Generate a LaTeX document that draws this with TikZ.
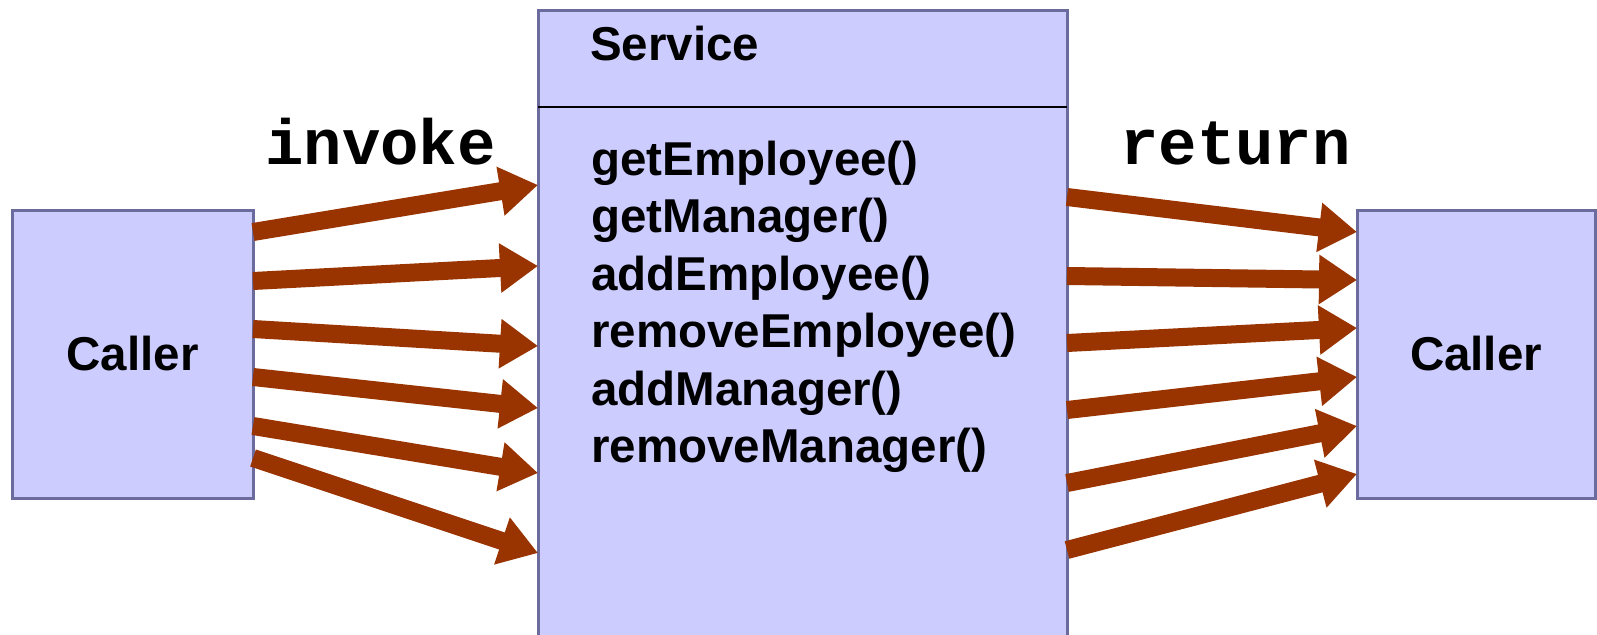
\documentclass[tikz,border=0pt]{standalone}
\usepackage{fontspec}
\setmainfont{Liberation Sans}
\newfontfamily\monob{Liberation Mono}
\usetikzlibrary{arrows.meta}
\definecolor{boxfill}{RGB}{204,204,255}
\definecolor{boxline}{RGB}{107,107,158}
\definecolor{arrowc}{RGB}{153,51,0}
\begin{document}
\begin{tikzpicture}[x=1pt,y=-1pt,
  box/.style={draw=boxline,line width=3pt,fill=boxfill,inner sep=0pt,outer sep=0pt},
  lbl/.style={font=\fontsize{47.5pt}{57pt}\selectfont\bfseries,inner sep=0pt},
  meth/.style={lbl,anchor=base west},
  code/.style={font=\monob\fontsize{64pt}{72pt}\selectfont\bfseries,inner sep=0pt,anchor=base west},
  flow/.style={draw=arrowc,line width=18pt,-{Triangle[length=38pt,width=47pt]}}]
\useasboundingbox (0,0) rectangle (1597,634);
% boxes
\node[box,minimum width=241pt,minimum height=288pt,lbl] (callerL) at (132.5,354) {Caller};
\node[box,minimum width=529pt,minimum height=640pt] (service) at (802.5,331) {};
\node[box,minimum width=238pt,minimum height=288pt,lbl] (callerR) at (1476,354) {Caller};
\coordinate (divL) at ([yshift=-96pt]service.north west);
\coordinate (divR) at ([yshift=-96pt]service.north east);
\draw[black,line width=1.5pt] (divL) -- (divR);
% texts
\node[meth] (title) at (590,60) {Service};
\node[meth] (m1) at (591,175) {getEmployee()};
\node[meth] (m2) at (591,232.5) {getManager()};
\node[meth] (m3) at (591,290) {addEmployee()};
\node[meth] (m4) at (591,347.5) {removeEmployee()};
\node[meth] (m5) at (591,405) {addManager()};
\node[meth] (m6) at (591,462.5) {removeManager()};
\node[code] (invoke) at (265,164) {invoke};
\node[code] (return) at (1120,164) {return};
% invoke arrows
\draw[flow] ([yshift=-22pt]callerL.north east) -- ([yshift=-174pt]service.north west);
\draw[flow] ([yshift=-71pt]callerL.north east) -- ([yshift=-255pt]service.north west);
\draw[flow] ([yshift=-119pt]callerL.north east) -- ([yshift=-335pt]service.north west);
\draw[flow] ([yshift=-167pt]callerL.north east) -- ([yshift=-397pt]service.north west);
\draw[flow] ([yshift=-216pt]callerL.north east) -- ([yshift=-462pt]service.north west);
\draw[flow] ([yshift=-248pt]callerL.north east) -- ([yshift=-542pt]service.north west);
% return arrows
\draw[flow] ([yshift=-186pt]service.north east) -- ([yshift=-22pt]callerR.north west);
\draw[flow] ([yshift=-265pt]service.north east) -- ([yshift=-70pt]callerR.north west);
\draw[flow] ([yshift=-332pt]service.north east) -- ([yshift=-118pt]callerR.north west);
\draw[flow] ([yshift=-399pt]service.north east) -- ([yshift=-167pt]callerR.north west);
\draw[flow] ([yshift=-472pt]service.north east) -- ([yshift=-216pt]callerR.north west);
\draw[flow] ([yshift=-539pt]service.north east) -- ([yshift=-264pt]callerR.north west);
\end{tikzpicture}
\end{document}
